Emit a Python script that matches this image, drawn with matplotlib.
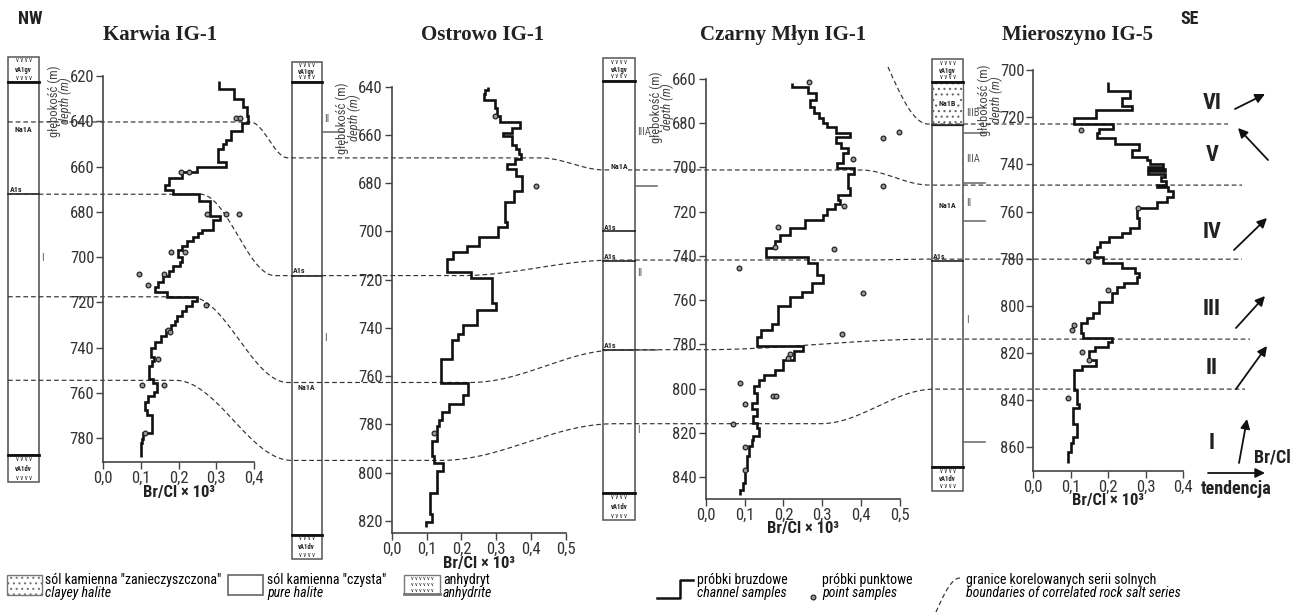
import numpy as np
import matplotlib
matplotlib.use('Agg')
import matplotlib.pyplot as plt
import matplotlib.font_manager as fm
from matplotlib.patches import Rectangle

W, H = 1303, 614

# pick a narrow sans if one is installed, otherwise Liberation Sans a bit smaller
names = {f.name: f for f in fm.fontManager.ttflist}
cond = {f.name for f in fm.fontManager.ttflist if f.stretch == 'condensed'}
narrow = None
for n in ['Liberation Sans Narrow', 'Roboto Condensed', 'Open Sans Condensed',
          'Noto Sans Condensed', 'DejaVu Sans Condensed']:
    if n in names:
        narrow = n
        break
if narrow:
    plt.rcParams['font.family'] = [narrow, 'DejaVu Sans']
    S = 1.0
elif 'Roboto' in cond or 'Noto Sans' in cond:
    narrow = 'Roboto' if 'Roboto' in cond else 'Noto Sans'
    plt.rcParams['font.family'] = [narrow, 'DejaVu Sans']
    plt.rcParams['font.stretch'] = 'condensed'
    S = 1.0
else:
    plt.rcParams['font.family'] = ['Liberation Sans', 'DejaVu Sans']
    S = 0.84
SERIF = ['Liberation Serif', 'DejaVu Serif']
plt.rcParams['hatch.color'] = '#777777'
plt.rcParams['hatch.linewidth'] = 0.8

# ---------------- data ----------------
wells = ['Karwia IG-1', 'Ostrowo IG-1', 'Czarny Młyn IG-1', 'Mieroszyno IG-5']

# channel samples: interval edges (m) and Br/Cl x 10^3
karwia_edges = [622.4, 625.7, 630.2, 633.7, 637.5, 640.8, 644.5, 648.1, 650, 652.1,
                658.2, 660.2, 662.6, 665.1, 668, 670.2, 672, 675, 682, 683.5,
                688, 689.5, 691.2, 693.1, 695, 697, 700, 702, 704, 706.3,
                708.5, 710.8, 713, 715.2, 717.6, 719.6, 721.8, 724, 726, 728,
                730, 732, 735, 737.7, 740.2, 744, 746, 748.3, 754, 755.7,
                759.4, 761.3, 763.8, 767.5, 769.7, 777.8, 780.4, 782.2, 788.4]
karwia_br = [0.307, 0.348, 0.372, 0.381, 0.383, 0.369, 0.340, 0.327, 0.317, 0.305,
             0.326, 0.250, 0.208, 0.174, 0.164, 0.186, 0.254, 0.283, 0.311, 0.292,
             0.261, 0.252, 0.239, 0.221, 0.208, 0.197, 0.210, 0.203, 0.186, 0.175,
             0.159, 0.146, 0.137, 0.168, 0.248, 0.236, 0.220, 0.210, 0.196, 0.190,
             0.180, 0.166, 0.152, 0.137, 0.126, 0.135, 0.128, 0.122, 0.133, 0.142,
             0.134, 0.119, 0.112, 0.115, 0.128, 0.106, 0.102, 0.100]

ostrowo_edges = [640, 641.5, 643, 645.5, 649, 652, 654.5, 657, 659.3, 660.5,
                 664, 666, 668, 670, 672, 674, 677, 683.4, 687.6, 695.9,
                 698, 702.2, 706.2, 708.6, 711.3, 716.8, 719.3, 729.7, 732.7, 738.6,
                 742.5, 744.8, 752.8, 763, 767.6, 771.5, 774.9, 778.3, 780.7, 786.9,
                 793.2, 795.8, 799.4, 808.3, 817.1, 820.3, 822.4]
ostrowo_br = [0.277, 0.268, 0.264, 0.297, 0.303, 0.310, 0.368, 0.344, 0.320, 0.344,
              0.358, 0.365, 0.370, 0.355, 0.330, 0.358, 0.375, 0.352, 0.325, 0.332,
              0.306, 0.249, 0.215, 0.177, 0.160, 0.227, 0.289, 0.299, 0.244, 0.204,
              0.191, 0.172, 0.141, 0.220, 0.204, 0.165, 0.145, 0.136, 0.129, 0.115,
              0.120, 0.146, 0.130, 0.110, 0.115, 0.098]

czarny_edges = [661.8, 663.6, 666.6, 669.6, 672.6, 675.3, 677.9, 680.2, 682, 684.4,
                686.5, 688.9, 691.4, 693.7, 698.2, 700.5, 703, 709.5, 712.5, 714.7,
                716.5, 718.9, 721.5, 723.8, 727.5, 730.5, 733.5, 736.5, 740.3, 743.3,
                748.6, 752.3, 756.1, 758.8, 762.6, 770.8, 773.4, 776.7, 780.9, 782.9,
                786.9, 791.4, 793.7, 795.9, 798.9, 802, 806.5, 809.2, 812.5, 815.5,
                817.7, 821.5, 823, 826, 830.5, 836.5, 842.6, 845.6, 847.8]
czarny_br = [0.221, 0.264, 0.284, 0.268, 0.279, 0.292, 0.303, 0.313, 0.335, 0.371,
             0.335, 0.347, 0.367, 0.354, 0.337, 0.382, 0.367, 0.371, 0.341, 0.346,
             0.333, 0.311, 0.303, 0.256, 0.217, 0.190, 0.178, 0.154, 0.264, 0.286,
             0.303, 0.273, 0.249, 0.217, 0.187, 0.170, 0.142, 0.131, 0.251, 0.226,
             0.200, 0.178, 0.150, 0.136, 0.124, 0.131, 0.118, 0.133, 0.123, 0.131,
             0.136, 0.123, 0.118, 0.112, 0.105, 0.101, 0.095, 0.088]

mieroszyno_edges = [705, 708.8, 711.7, 715.3, 717, 720.5, 722.9, 725.2, 726.9, 729,
                    731.5, 733.9, 736.7, 738.2, 739.9, 741.2, 742, 743, 744, 745.5,
                    747, 748.8, 749.8, 751.5, 753.7, 755.8, 758.7, 762.9, 767.1, 769.3,
                    771, 772.8, 774.9, 777, 779.2, 781.7, 784.1, 785.9, 787.9, 790.5,
                    791.9, 794.7, 798.2, 803.2, 805.3, 807.4, 811.7, 813.8, 815.2, 817.6,
                    819, 823, 825.4, 827.2, 835.7, 841.8, 843.5, 850.1, 855.8, 858.3,
                    861.8, 866.5]
mieroszyno_br = [0.200, 0.258, 0.237, 0.264, 0.166, 0.109, 0.213, 0.176, 0.171, 0.218,
                 0.282, 0.264, 0.302, 0.311, 0.345, 0.305, 0.350, 0.305, 0.352, 0.340,
                 0.355, 0.330, 0.360, 0.373, 0.357, 0.331, 0.276, 0.283, 0.258, 0.237,
                 0.203, 0.178, 0.169, 0.162, 0.185, 0.236, 0.271, 0.283, 0.276, 0.242,
                 0.222, 0.209, 0.175, 0.160, 0.142, 0.127, 0.133, 0.209, 0.200, 0.164,
                 0.149, 0.167, 0.131, 0.108, 0.116, 0.123, 0.107, 0.116, 0.107, 0.100,
                 0.092]

# point samples
karwia_pt_depth = [638.4, 638.4, 662.4, 662.4, 681, 681, 681, 697.9, 697.9, 707.4,
                   707.4, 712.2, 721.1, 732, 733, 745, 756.4, 756.4, 777.5]
karwia_pt_br = [0.352, 0.363, 0.206, 0.228, 0.276, 0.327, 0.361, 0.181, 0.217, 0.096,
                0.161, 0.119, 0.272, 0.172, 0.177, 0.146, 0.102, 0.161, 0.112]
ostrowo_pt_depth = [652.1, 681, 783.4]
ostrowo_pt_br = [0.296, 0.413, 0.120]
czarny_pt_depth = [661.7, 683.9, 686.9, 696.2, 708.3, 717.4, 726.9, 735.8, 737, 745.3,
                   756.8, 775.2, 784.2, 786.2, 797.4, 803.2, 803.2, 806.8, 815.8, 826.3,
                   836.5]
czarny_pt_br = [0.266, 0.498, 0.455, 0.380, 0.455, 0.356, 0.185, 0.178, 0.330, 0.085,
                0.404, 0.352, 0.217, 0.213, 0.089, 0.173, 0.180, 0.101, 0.069, 0.101,
                0.101]
mieroszyno_pt_depth = [725.4, 758.7, 780.8, 793.3, 808.1, 810.2, 819.4, 823, 838.9]
mieroszyno_pt_br = [0.126, 0.280, 0.145, 0.200, 0.109, 0.102, 0.131, 0.148, 0.092]

edges = [karwia_edges, ostrowo_edges, czarny_edges, mieroszyno_edges]
br = [karwia_br, ostrowo_br, czarny_br, mieroszyno_br]
pt_depth = [karwia_pt_depth, ostrowo_pt_depth, czarny_pt_depth, mieroszyno_pt_depth]
pt_br = [karwia_pt_br, ostrowo_pt_br, czarny_pt_br, mieroszyno_pt_br]

depth_lim = [(620, 790.5), (640, 825.1), (660, 849.8), (700, 869.9)]
br_max = [0.4, 0.5, 0.5, 0.4]

# lithology columns (depths in m)
top_anhydrite = [(611.6, 622.7), (629.7, 637.9), (650.8, 661.0), (695.5, 705.0)]
bottom_anhydrite = [(787.5, 799.5), (825.8, 835.9), (847.2, 859.3), (868.5, 878.5)]
clayey_halite = [None, None, None, (705.0, 723.3)]
unit_labels = [[('Na1A', 643.8), ('A1s', 670.3)],
               [('A1s', 716.3), ('Na1A', 764.7)],
               [('Na1A', 699.7), ('A1s', 727.1), ('A1s', 740.2), ('A1s', 780.6)],
               [('Na1B', 714.1), ('Na1A', 757.3), ('A1s', 779.2)]]
unit_lines = [[672.2], [718.3], [728.6, 742.2, 782.4], [723.3, 780.9]]
series_labels = [[('I', 700.4)],
                 [('II', 653.5), ('I', 744)],
                 [('IIIA', 684.2), ('II', 747.9), ('I', 818.6)],
                 [('IIIB', 718.4), ('IIIA', 737.8), ('II', 756.5), ('I', 806)]]
series_ticks = [[], [658.6], [708.3, 782.4], [726.6, 747.8, 763.9, 857.6]]

# correlated boundaries: depth in each well (NaN = absent)
boundaries = {
    'A': [640.3, 669.5, 701.2, 748.8],
    'B': [672.2, 718.3, 741.9, 780.2],
    'C': [717.5, 762.6, 782.4, 814.1],
    'D': [754.4, 794.9, 815.8, 835.3],
    'E': [np.nan, np.nan, 654.7, 722.9],
}
trend_labels = ['VI', 'V', 'IV', 'III', 'II', 'I']

# ---------------- layout (pixels) ----------------
panel_px = [(103.3, 76, 254, 462), (391.7, 86.7, 566, 533.3),
            (705.7, 78.7, 900, 499), (1033.3, 70, 1183.3, 470.7)]
col_x = [(8, 39), (291.7, 321.7), (602.7, 635), (931.7, 963.3)]
title_x = [160, 483, 783, 1077]
ylab_px = [(54, 65.5, 101), (342, 354, 118), (656, 667, 107), (984, 996, 100)]
bends = {
    'A': [(250, 288), (540, 605), (860, 930)],
    'B': [(200, 275), (460, 615), (860, 930)],
    'C': [(190, 288), (470, 620), (700, 935)],
    'D': [(175, 292), (440, 615), (820, 935)],
}
line_end = {'A': 1242, 'B': 1242, 'C': 1250, 'D': 1245, 'E': 1228}
trend_y = [103, 155, 232, 309, 368, 443]
trend_arrows = [((1235, 109), (1265, 94)), ((1268, 160), (1238, 128)),
                ((1234, 250), (1267, 218)), ((1236, 328), (1265, 296)),
                ((1236, 389), (1267, 346)), ((1239, 463), (1247, 419))]
INK = '#222222'


def ypx(i, d):
    l, t, r, b = panel_px[i]
    d0, d1 = depth_lim[i]
    return t + (d - d0) * (b - t) / (d1 - d0)


def smooth(x0, y0, x1, y1, kind='s', n=50):
    tt = np.linspace(0, 1, n)
    s = (1 - np.cos(np.pi * tt)) / 2 if kind == 's' else np.sin(np.pi * tt / 2)
    return list(x0 + (x1 - x0) * tt), list(y0 + (y1 - y0) * s)


fig = plt.figure(figsize=(W / 100, H / 100), dpi=100)
ov = fig.add_axes([0, 0, 1, 1])
ov.set_xlim(0, W)
ov.set_ylim(H, 0)
ov.axis('off')

# ---------------- panels ----------------
for i in range(4):
    l, t, r, b = panel_px[i]
    ax = fig.add_axes([l / W, 1 - b / H, (r - l) / W, (b - t) / H])
    ax.patch.set_alpha(0)
    ax.stairs(br[i], edges[i], orientation='horizontal', baseline=None,
              color='#111111', lw=1.9)
    ax.plot(pt_br[i], pt_depth[i], 'o', ms=3.4, mfc='#9a9a9a', mec=INK,
            mew=0.9, clip_on=False, ls='none')
    ax.set_xlim(0, br_max[i])
    ax.set_ylim(depth_lim[i][1], depth_lim[i][0])
    for s in ('top', 'right'):
        ax.spines[s].set_visible(False)
    for s in ('left', 'bottom'):
        ax.spines[s].set_linewidth(1.2)
        ax.spines[s].set_color('#444444')
    xt = np.round(np.arange(0, br_max[i] + 0.001, 0.1), 1)
    ax.set_xticks(xt)
    ax.set_xticklabels([f'{v:.1f}'.replace('.', ',') for v in xt])
    ax.set_yticks(np.arange(depth_lim[i][0], depth_lim[i][1], 20))
    ax.tick_params(direction='out', length=5, width=1, labelsize=12 * S, pad=1.5,
                   colors='#444444', labelcolor='#333333')
    ov.text((l + r) / 2, b + 30, 'Br/Cl × 10³', ha='center', va='center',
            fontsize=12 * S, fontweight='bold', color=INK)
    ov.text(title_x[i], 35, wells[i], ha='center', va='center', fontsize=15,
            fontweight='bold', family=SERIF, color=INK)
    x1, x2, yc = ylab_px[i]
    ov.text(x1, yc, 'głębokość (m)', rotation=90, ha='center', va='center',
            fontsize=9 * S, color='#444444')
    ov.text(x2, yc, 'depth (m)', rotation=90, ha='center', va='center',
            fontsize=9 * S, style='italic', color='#444444')


# ---------------- lithology columns ----------------
def anhydrite_box(x0, x1, y0, y1, label, n=4, fs=4.8):
    ov.add_patch(Rectangle((x0, y0), x1 - x0, y1 - y0, fc='white', ec='#555555', lw=1.1))
    xc = (x0 + x1) / 2
    row = ' '.join(['v'] * n)
    ov.text(xc, y0 + 4, row, ha='center', va='center', fontsize=fs, color=INK)
    if label:
        ov.text(xc, (y0 + y1) / 2, label, ha='center', va='center', fontsize=fs,
                fontweight='bold', color=INK)
    ov.text(xc, y1 - 4, row, ha='center', va='center', fontsize=fs, color=INK)


for i in range(4):
    x0, x1 = col_x[i]
    ta0, ta1 = ypx(i, top_anhydrite[i][0]), ypx(i, top_anhydrite[i][1])
    ba0, ba1 = ypx(i, bottom_anhydrite[i][0]), ypx(i, bottom_anhydrite[i][1])
    ov.add_patch(Rectangle((x0, ta1), x1 - x0, ba0 - ta1, fc='white', ec='#666666', lw=1.3))
    if clayey_halite[i] is not None:
        c0, c1 = ypx(i, clayey_halite[i][0]), ypx(i, clayey_halite[i][1])
        ov.add_patch(Rectangle((x0, c0), x1 - x0, c1 - c0, fc='white', ec='#666666',
                               lw=1.0, hatch='...'))
    anhydrite_box(x0, x1, ta0, ta1, 'vA1gv')
    anhydrite_box(x0, x1, ba0, ba1, 'vA1dv')
    ov.plot([x0, x1], [ta1, ta1], color='#111111', lw=2)
    ov.plot([x0, x1], [ba0, ba0], color='#111111', lw=2)
    for d in unit_lines[i]:
        ov.plot([x0, x1], [ypx(i, d)] * 2, color='#111111', lw=1.1)
    for txt, d in unit_labels[i]:
        if txt == 'A1s':
            ov.text(x0 + 1.5, ypx(i, d), txt, ha='left', va='center', fontsize=5.8,
                    fontweight='bold', color=INK)
        else:
            ov.text((x0 + x1) / 2, ypx(i, d), txt, ha='center', va='center',
                    fontsize=5.8, fontweight='bold', color=INK,
                    bbox=dict(fc='white', ec='none', pad=0.3))
    for txt, d in series_labels[i]:
        ov.text(x1 + 2.5, ypx(i, d), txt, ha='left', va='center', fontsize=7.5 * S,
                color='#555555')
    for d in series_ticks[i]:
        ov.plot([x1, x1 + 22], [ypx(i, d)] * 2, color='#666666', lw=1.1)

# ---------------- correlation boundaries ----------------
dash = dict(color='#333333', lw=0.85, dashes=(4, 2.5))
for key in 'ABCD':
    ds = boundaries[key]
    ys = [ypx(i, d) for i, d in enumerate(ds)]
    xs_all, ys_all = [col_x[0][0]], [ys[0]]
    for g, (bx0, bx1) in enumerate(bends[key]):
        cx, cy = smooth(bx0, ys[g], bx1, ys[g + 1])
        xs_all += cx
        ys_all += cy
    xs_all.append(line_end[key])
    ys_all.append(ys[3])
    ov.plot(xs_all, ys_all, **dash)

yE0, yE1 = ypx(2, boundaries['E'][2]), ypx(3, boundaries['E'][3])
cx, cy = smooth(888, yE0, 928, yE1, kind='out')
ov.plot(cx + [line_end['E']], cy + [yE1], **dash)

# ---------------- trend arrows ----------------
arrow = dict(arrowstyle='-|>', color='#111111', lw=1.3, mutation_scale=14,
             shrinkA=0, shrinkB=0)
for lab, y, (p0, p1) in zip(trend_labels, trend_y, trend_arrows):
    ov.text(1212, y, lab, ha='center', va='center', fontsize=16 * S,
            fontweight='bold', color=INK)
    ov.annotate('', xy=p1, xytext=p0, arrowprops=arrow)
ov.annotate('', xy=(1265, 473), xytext=(1208, 473), arrowprops=arrow)
ov.text(1272, 458, 'Br/Cl', ha='center', va='center', fontsize=13 * S,
        fontweight='bold', color=INK)
ov.text(1236, 489, 'tendencja', ha='center', va='center', fontsize=13 * S,
        fontweight='bold', color=INK)
ov.text(30, 19, 'NW', ha='center', va='center', fontsize=13 * S, fontweight='bold',
        color=INK)
ov.text(1190, 19, 'SE', ha='center', va='center', fontsize=13 * S, fontweight='bold',
        color=INK)

# ---------------- legend ----------------
ly1, ly2 = 580, 593
LF = 10 * S
ov.add_patch(Rectangle((7, 575), 35, 20, fc='white', ec='#777777', lw=1, hatch='...'))
ov.text(45, ly1, 'sól kamienna "zanieczyszczona"', ha='left', va='center', fontsize=LF)
ov.text(45, ly2, 'clayey halite', ha='left', va='center', fontsize=LF, style='italic')

ov.add_patch(Rectangle((228, 575), 35, 20, fc='white', ec='#666666', lw=1.2))
ov.text(267, ly1, 'sól kamienna "czysta"', ha='left', va='center', fontsize=LF)
ov.text(267, ly2, 'pure halite', ha='left', va='center', fontsize=LF, style='italic')

ov.add_patch(Rectangle((404, 575), 36, 19, fc='white', ec='#777777', lw=1))
for yy in (578.5, 584.5, 590.5):
    ov.text(422, yy, 'v v v v v v', ha='center', va='center', fontsize=4.5, color=INK)
ov.plot([404, 440], [594, 594], color='#777777', lw=2)
ov.text(443, ly1, 'anhydryt', ha='left', va='center', fontsize=LF)
ov.text(443, ly2, 'anhydrite', ha='left', va='center', fontsize=LF, style='italic')

ov.plot([657, 680, 680, 693], [598, 598, 580, 580], color='#111111', lw=1.8)
ov.text(697, ly1, 'próbki bruzdowe', ha='left', va='center', fontsize=LF)
ov.text(697, ly2, 'channel samples', ha='left', va='center', fontsize=LF, style='italic')

ov.plot([813], [597], 'o', ms=3.4, mfc='#9a9a9a', mec=INK, mew=0.9)
ov.text(822, ly1, 'próbki punktowe', ha='left', va='center', fontsize=LF)
ov.text(822, ly2, 'point samples', ha='left', va='center', fontsize=LF, style='italic')

cx, cy = smooth(936, 612, 960, 578, kind='out')
ov.plot(cx, cy, **dash)
ov.text(966, ly1, 'granice korelowanych serii solnych', ha='left', va='center', fontsize=LF)
ov.text(966, ly2, 'boundaries of correlated rock salt series', ha='left', va='center',
        fontsize=LF, style='italic')

fig.savefig('out.png', dpi=100)
